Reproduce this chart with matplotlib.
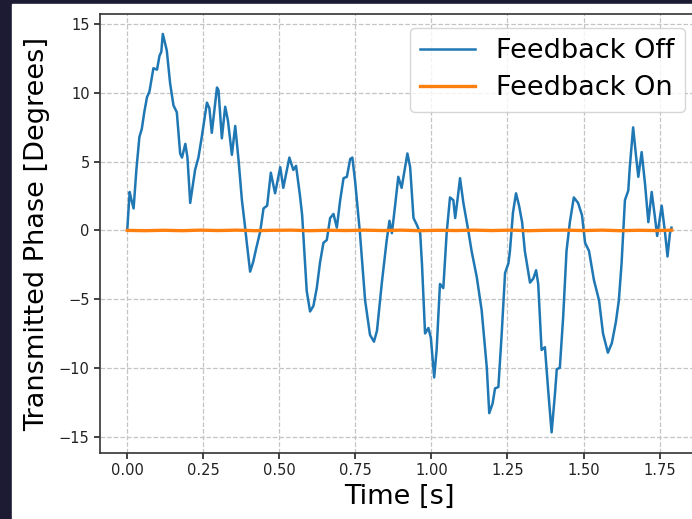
import matplotlib
matplotlib.use('Agg')
import matplotlib.pyplot as plt
from matplotlib.patches import Rectangle

# phase with feedback off
t_off = [0.000, 0.005, 0.008, 0.013, 0.021, 0.030, 0.040, 0.048, 0.056, 0.065,
         0.073, 0.079, 0.086, 0.098, 0.106, 0.112, 0.117, 0.130, 0.141, 0.152,
         0.163, 0.174, 0.180, 0.191, 0.198, 0.207, 0.223, 0.234, 0.245, 0.262,
         0.270, 0.278, 0.295, 0.300, 0.311, 0.322, 0.331, 0.344, 0.355, 0.366,
         0.377, 0.385, 0.394, 0.404, 0.414, 0.424, 0.437, 0.448, 0.460, 0.472,
         0.486, 0.503, 0.513, 0.533, 0.546, 0.555, 0.568, 0.575, 0.590, 0.601,
         0.612, 0.623, 0.634, 0.645, 0.656, 0.667, 0.678, 0.689, 0.700, 0.711,
         0.722, 0.733, 0.740, 0.749, 0.765, 0.782, 0.798, 0.811, 0.821, 0.831,
         0.837, 0.853, 0.862, 0.870, 0.880, 0.891, 0.902, 0.912, 0.921, 0.930,
         0.941, 0.952, 0.963, 0.969, 0.979, 0.990, 0.998, 1.009, 1.017, 1.028,
         1.039, 1.050, 1.061, 1.072, 1.078, 1.086, 1.094, 1.105, 1.121, 1.132,
         1.149, 1.165, 1.182, 1.190, 1.201, 1.209, 1.220, 1.231, 1.242, 1.253,
         1.258, 1.268, 1.278, 1.288, 1.298, 1.307, 1.324, 1.335, 1.344, 1.351,
         1.362, 1.373, 1.384, 1.395, 1.406, 1.412, 1.422, 1.433, 1.444, 1.455,
         1.468, 1.482, 1.495, 1.505, 1.518, 1.534, 1.551, 1.564, 1.580, 1.593,
         1.606, 1.616, 1.625, 1.636, 1.647, 1.652, 1.663, 1.674, 1.680, 1.691,
         1.702, 1.713, 1.724, 1.735, 1.742, 1.757, 1.768, 1.776, 1.784, 1.789]
phase_off = [0.0, 1.8, 2.8, 2.3, 1.6, 4.4, 6.8, 7.4, 8.6, 9.7,
             10.1, 10.9, 11.8, 11.7, 12.7, 13.0, 14.3, 13.1, 10.7, 9.1,
             8.6, 5.6, 5.3, 6.3, 5.3, 2.0, 4.4, 5.3, 6.8, 9.3,
             8.9, 7.1, 10.4, 10.2, 6.7, 9.0, 8.0, 5.5, 7.6, 5.1,
             2.2, 0.7, -1.1, -3.0, -2.3, -1.3, -0.1, 1.6, 1.8, 4.2,
             2.7, 4.6, 3.1, 5.3, 4.4, 4.7, 2.5, 1.1, -4.4, -5.9,
             -5.5, -4.2, -2.3, -0.9, -0.7, 0.9, 1.2, 0.2, 2.2, 3.8,
             3.9, 5.2, 5.3, 3.6, -0.2, -5.1, -7.6, -8.1, -7.3, -5.1,
             -3.8, -0.7, 0.7, -0.2, 1.7, 3.9, 3.1, 4.4, 5.6, 4.6,
             0.9, 0.4, -0.2, -2.5, -7.5, -7.1, -7.8, -10.7, -8.7, -3.9,
             -4.2, -0.2, 2.4, 2.2, 0.9, 2.3, 3.8, 2.0, 0.0, -1.5,
             -3.4, -5.8, -10.0, -13.3, -12.6, -11.5, -11.4, -7.5, -3.1, -2.4,
             -1.5, 1.3, 2.7, 1.8, 0.6, -1.5, -3.8, -3.5, -2.9, -3.9,
             -8.7, -8.5, -11.7, -14.7, -11.9, -10.1, -10.0, -6.3, -1.5, 0.6,
             2.4, 2.0, 1.1, -0.9, -1.5, -3.6, -5.1, -7.5, -8.9, -8.2,
             -6.7, -5.1, -2.4, 2.2, 2.9, 4.6, 7.5, 5.1, 3.9, 5.7,
             3.4, 0.6, 2.8, 0.9, -0.4, 1.8, -0.2, -1.9, -0.2, 0.2]

# phase with feedback on, stays at zero
t_on = [0.00, 0.06, 0.12, 0.18, 0.24, 0.30, 0.36, 0.42, 0.48, 0.54,
        0.60, 0.66, 0.72, 0.78, 0.84, 0.90, 0.96, 1.02, 1.08, 1.14,
        1.20, 1.26, 1.32, 1.38, 1.44, 1.50, 1.56, 1.62, 1.68, 1.74, 1.79]
phase_on = [0.0, -0.02, 0.01, -0.02, 0.02, -0.01, 0.02, -0.02, 0.01, 0.02,
            -0.02, 0.01, -0.01, 0.02, -0.01, 0.02, -0.02, 0.01, -0.01, 0.02,
            -0.01, 0.02, -0.02, 0.01, 0.02, -0.01, 0.02, -0.02, 0.01, -0.01, 0.02]

yticks = [-15, -10, -5, 0, 5, 10, 15]
xticks = [0.00, 0.25, 0.50, 0.75, 1.00, 1.25, 1.50, 1.75]

fig = plt.figure(figsize=(6.92, 5.19), dpi=100, facecolor='#1c1b33')
# white page inside the dark frame
fig.add_artist(Rectangle((12/692, 0), 1 - 12/692, 1 - 4/519,
                         transform=fig.transFigure, color='white', zorder=0))

ax = fig.add_axes([100/692, 66/519, 599/692, 439/519])
ax.plot(t_off, phase_off, color='#1f77b4', lw=1.8, label='Feedback Off')
ax.plot(t_on, phase_on, color='#ff7f0e', lw=2.4, label='Feedback On')

ax.set_xlim(-0.0895, 1.8795)
ax.set_ylim(-16.2, 15.75)
ax.set_xticks(xticks)
ax.set_yticks(yticks)
ax.tick_params(labelsize=10.5, length=4, width=1.2, colors='#222222')
ax.grid(True, linestyle='--', color='#c4c4c4', lw=0.9)
for s in ax.spines.values():
    s.set_color('#333333')
    s.set_linewidth(1.2)

ax.set_xlabel('Time [s]', fontsize=19.5, labelpad=4)
ax.set_ylabel('Transmitted Phase [Degrees]', fontsize=19.5, labelpad=6)
ax.legend(loc='upper right', fontsize=19.5, labelspacing=0.4)

plt.savefig('out.png', dpi=100, facecolor=fig.get_facecolor())
